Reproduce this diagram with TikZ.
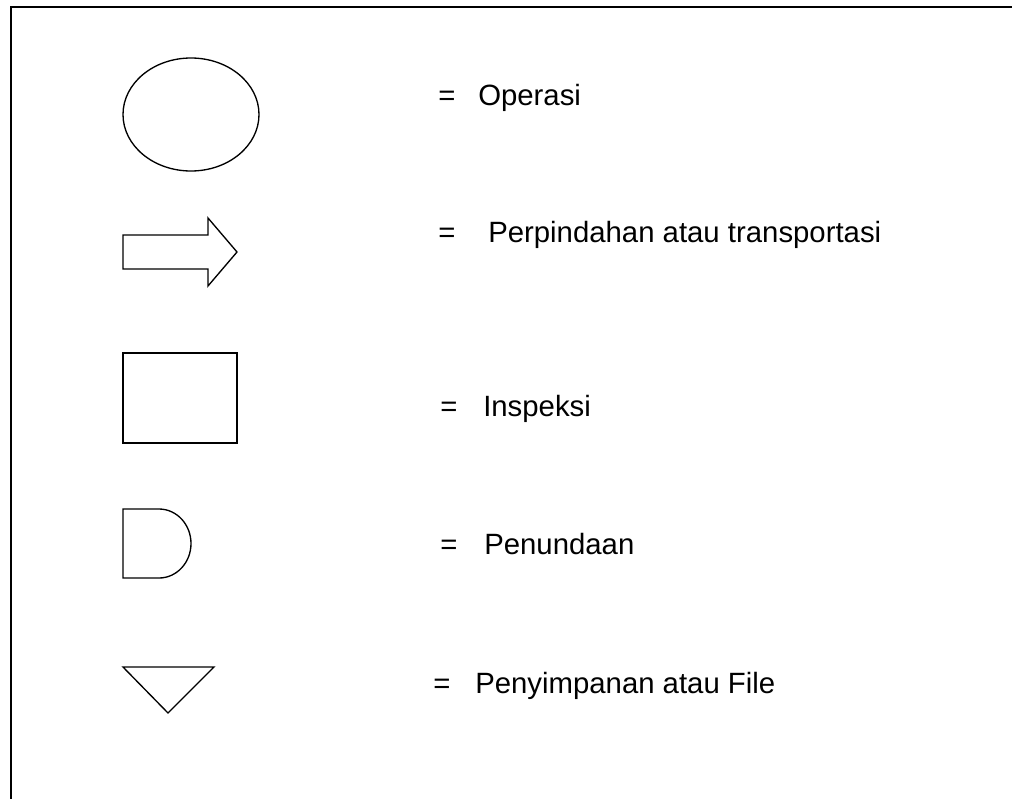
\documentclass[tikz,border=0pt]{standalone}
\usepackage{fontspec}
\setmainfont{Liberation Sans}
\begin{document}
\begin{tikzpicture}[x=0.75pt,y=-0.75pt,
  shape line/.style={line width=1pt,black,line join=miter},
  frame line/.style={line width=1.5pt,black},
  lbl/.style={anchor=base west,inner sep=0pt,font=\fontsize{22}{26}\selectfont}]
\useasboundingbox (0,0) rectangle (1012,799);
% frame (open at bottom and right)
\draw[frame line] (1012,7) -- (11,7) -- (11,799);
% Operasi: ellipse
\draw[shape line] (191,114.5) ellipse [x radius=68, y radius=56.5];
% Perpindahan: block arrow
\draw[shape line] (123,235) -- (208,235) -- (208,218) -- (237,252) -- (208,286) -- (208,269) -- (123,269) -- cycle;
% Inspeksi: rectangle
\draw[shape line] (123,353) rectangle (237,443);
% Penundaan: D shape
\draw[shape line] (159,509) -- (123,509) -- (123,578) -- (159,578)
  arc[start angle=-90, end angle=90, x radius=32, y radius=-34.5];
% Penyimpanan: triangle
\draw[shape line] (123,667) -- (214,667) -- (168,713) -- cycle;
% labels
\node[lbl] (eq1) at (438,105) {=};
\node[lbl] (t1) at (478,105) {Operasi};
\node[lbl] (eq2) at (438,242) {=};
\node[lbl] (t2) at (488,242) {Perpindahan atau transportasi};
\node[lbl] (eq3) at (440,416) {=};
\node[lbl] (t3) at (483,416) {Inspeksi};
\node[lbl] (eq4) at (440,554) {=};
\node[lbl] (t4) at (484,554) {Penundaan};
\node[lbl] (eq5) at (433,693) {=};
\node[lbl] (t5) at (475,693) {Penyimpanan atau File};
\end{tikzpicture}
\end{document}
